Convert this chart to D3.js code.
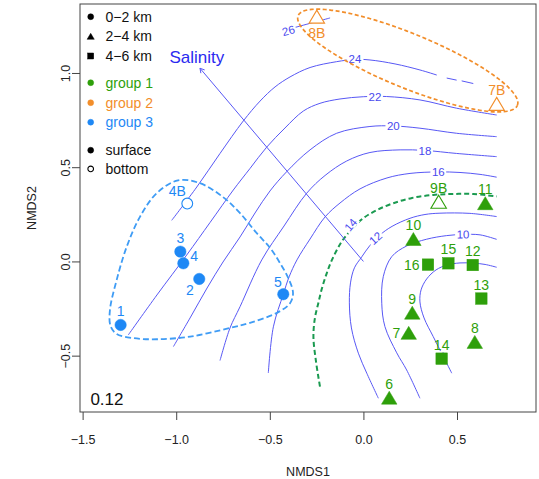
<!DOCTYPE html>
<html>
<head>
<meta charset="utf-8">
<script src="https://cdn.jsdelivr.net/npm/d3@7"></script>
<style>
body { margin: 0; background: #fff; }
text { font-family: "Liberation Sans", Arial, Helvetica, sans-serif; }
</style>
</head>
<body>
<svg id="viz"></svg>
<script>
var width = 539;
var height = 479;

// ---- sites (NMDS scores) ----
var siteNames = ["1","2","3","4","5","4B","8B","7B","6","7","8","9","10","11","12","13","14","15","16","9B"];
var siteNMDS1 = [-1.297,-0.877,-0.978,-0.962,-0.428,-0.941,-0.249,0.712,0.138,0.242,0.595,0.261,0.267,0.651,0.584,0.630,0.418,0.454,0.345,0.402];
var siteNMDS2 = [-0.337,-0.093,0.052,-0.010,-0.174,0.307,1.299,0.836,-0.723,-0.379,-0.427,-0.272,0.119,0.309,-0.019,-0.197,-0.516,-0.010,-0.017,0.317];
var siteGroup = [3,3,3,3,3,3,2,2,1,1,1,1,1,1,1,1,1,1,1,1];
var siteDepth = [0,0,0,0,0,0,1,1,1,1,1,1,1,1,2,2,2,2,2,1];
var siteLayer = ["surface","surface","surface","surface","surface","bottom","bottom","bottom",
                 "surface","surface","surface","surface","surface","surface","surface","surface","surface","surface","surface","bottom"];
var labelPos = ["t","bl","t","tr","tl","tl","b","t","t","l","t","t","t","t","t","t","t","t","l","t"];

var depthNames = ["0\u22122 km","2\u22124 km","4\u22126 km"];
var groupNames = ["group 1","group 2","group 3"];
var layerNames = ["surface","bottom"];

// ---- salinity surface (ordisurf contours), each level a list of pieces ----
var sal8  = [[[0.472,-0.593],[0.425,-0.501],[0.373,-0.399],[0.324,-0.300],[0.302,-0.215],[0.308,-0.151],[0.338,-0.093],[0.388,-0.045],[0.447,-0.019],[0.516,-0.008],[0.587,-0.009],[0.650,-0.016],[0.712,-0.031]]];
var sal10 = [[[0.302,-0.726],[0.231,-0.576],[0.178,-0.485],[0.115,-0.346],[0.098,-0.222],[0.106,-0.081],[0.151,0.025],[0.231,0.082],[0.338,0.118],[0.445,0.137],[0.532,0.143],[0.623,0.141],[0.712,0.117]]];
var sal12 = [[[0.080,-0.726],[0.018,-0.593],[-0.027,-0.487],[-0.064,-0.353],[-0.075,-0.220],[-0.069,-0.114],[-0.048,-0.034],[-0.009,0.024],[0.035,0.085],[0.089,0.141],[0.153,0.186],[0.249,0.229],[0.329,0.249],[0.409,0.256],[0.569,0.255],[0.712,0.238]]];
var sal14 = [[[-0.232,-0.664],[-0.253,-0.533],[-0.267,-0.401],[-0.259,-0.300],[-0.241,-0.222],[-0.221,-0.141],[-0.196,-0.063],[-0.168,0.008],[-0.116,0.105],[-0.066,0.167],[-0.001,0.229],[0.073,0.273],[0.160,0.309],[0.260,0.337],[0.373,0.353],[0.479,0.358],[0.587,0.358],[0.712,0.345]]];
var sal16 = [[[-0.508,-0.592],[-0.481,-0.347],[-0.428,-0.174],[-0.397,-0.082],[-0.355,0.008],[-0.285,0.119],[-0.205,0.236],[-0.125,0.310],[-0.018,0.385],[0.126,0.443],[0.249,0.467],[0.399,0.475],[0.516,0.472],[0.623,0.462],[0.712,0.447]]];
var sal18 = [[[-0.766,-0.526],[-0.713,-0.354],[-0.659,-0.240],[-0.543,0.008],[-0.424,0.188],[-0.303,0.362],[-0.205,0.456],[-0.089,0.533],[0.035,0.578],[0.196,0.592],[0.329,0.589],[0.498,0.573],[0.712,0.556]]];
var sal20 = [[[-1.015,-0.452],[-0.926,-0.300],[-0.835,-0.141],[-0.750,-0.003],[-0.659,0.130],[-0.579,0.257],[-0.499,0.374],[-0.410,0.476],[-0.285,0.592],[-0.143,0.680],[0.035,0.716],[0.158,0.719],[0.302,0.707],[0.498,0.680],[0.712,0.662]]];
var sal22 = [[[-1.256,-0.390],[-1.103,-0.178],[-0.944,0.034],[-0.819,0.207],[-0.695,0.379],[-0.606,0.493],[-0.517,0.606],[-0.419,0.708],[-0.321,0.798],[-0.232,0.839],[-0.125,0.862],[-0.001,0.874],[0.124,0.875],[0.302,0.857],[0.498,0.813],[0.712,0.777]]];
var sal24 = [[[-1.024,0.218],[-0.890,0.395],[-0.766,0.573],[-0.642,0.745],[-0.552,0.851],[-0.472,0.926],[-0.392,0.979],[-0.285,1.029],[-0.143,1.060],[-0.045,1.072],[0.035,1.069],[0.169,1.048],[0.302,1.016],[0.392,0.989]],
             [[0.445,0.973],[0.498,0.962]],
             [[0.525,0.958],[0.587,0.944]]];
var sal26 = [[[-0.368,1.241],[-0.249,1.273],[-0.178,1.292]]];

var contourLevels = [8,10,12,14,16,18,20,22,24,26];
var contourLines  = [sal8,sal10,sal12,sal14,sal16,sal18,sal20,sal22,sal24,sal26];
var contourLabX   = [0.417,0.532,0.065,-0.068,0.400,0.329,0.160,0.062,-0.045,-0.401];
var contourLabY   = [-0.501,0.143,0.123,0.194,0.475,0.588,0.719,0.874,1.073,1.224];
var contourLabAng = [62,-1,-42,-50,0,0,0,0,0,-15];

// salinity vector (envfit)
var salinityVec = [-0.873, 1.025];
var salinityLab = [-0.890, 1.083];

// group 3 hull, group 2 ellipse
var hull3 = [[-0.990,0.430],[-0.873,0.415],[-0.748,0.340],[-0.659,0.256],[-0.570,0.150],[-0.499,0.072],[-0.446,-0.008],[-0.401,-0.089],[-0.376,-0.167],[-0.392,-0.222],[-0.462,-0.273],[-0.606,-0.326],[-0.713,-0.353],[-0.926,-0.399],[-1.104,-0.413],[-1.229,-0.407],[-1.318,-0.385],[-1.351,-0.342],[-1.354,-0.257],[-1.318,-0.098],[-1.264,0.079],[-1.193,0.238],[-1.104,0.362]];
var ellipse2 = {cx: 0.237, cy: 1.066, a: 0.632, b: 0.144, angle: -22.1};

var stress = "0.12";

// ---- styles ----
var groupColors = ["#2e9f0a", "#f28e2b", "#1e88f5"];
var hullColor = "#3f9cf5";
var contourColor = "#5858f5";
var contourTextColor = "#4848ee";
var c14Color = "#1a9a50";

var svg = d3.select("#viz")
	.attr("width", width)
	.attr("height", height)
	.style("display", "block");

var x = d3.scaleLinear().domain([-1.514, 0.922]).range([80, 536]);
var y = d3.scaleLinear().domain([-0.799, 1.366]).range([412, 4]);

var line = d3.line().x(d => x(d[0])).y(d => y(d[1])).curve(d3.curveCatmullRom.alpha(0.5));

// contours
contourLines.forEach((pieces, i) => {
	var lev = contourLevels[i];
	pieces.forEach(p => {
		svg.append("path")
			.attr("d", line(p))
			.attr("fill", "none")
			.attr("stroke", lev === 14 ? c14Color : contourColor)
			.attr("stroke-width", lev === 14 ? 2 : 1)
			.attr("stroke-dasharray", lev === 14 ? "5,3" : null);
	});
});

// contour labels
contourLevels.forEach((lev, i) => {
	var g = svg.append("g")
		.attr("transform", "translate(" + x(contourLabX[i]) + "," + y(contourLabY[i]) + ") rotate(" + contourLabAng[i] + ")");
	var t = g.append("text")
		.attr("text-anchor", "middle")
		.attr("dominant-baseline", "central")
		.style("font-size", "11.5px")
		.attr("fill", contourTextColor)
		.text(lev);
	var bb = t.node().getBBox();
	g.insert("rect", "text")
		.attr("x", bb.x - 1.5).attr("y", bb.y + 1)
		.attr("width", bb.width + 3).attr("height", bb.height - 2)
		.attr("fill", "#fff");
});

// salinity arrow
var x0 = x(0), y0 = y(0), x1 = x(salinityVec[0]), y1 = y(salinityVec[1]);
var ang = Math.atan2(y1 - y0, x1 - x0);
var hl = 5;
svg.append("path")
	.attr("d", "M" + x0 + "," + y0 + "L" + x1 + "," + y1 +
		"M" + (x1 - hl * Math.cos(ang - Math.PI / 6)) + "," + (y1 - hl * Math.sin(ang - Math.PI / 6)) +
		"L" + x1 + "," + y1 +
		"L" + (x1 - hl * Math.cos(ang + Math.PI / 6)) + "," + (y1 - hl * Math.sin(ang + Math.PI / 6)))
	.attr("fill", "none")
	.attr("stroke", contourColor)
	.attr("stroke-width", 1);
svg.append("text")
	.attr("x", x(salinityLab[0])).attr("y", y(salinityLab[1]))
	.attr("text-anchor", "middle")
	.attr("dominant-baseline", "central")
	.style("font-size", "17px")
	.attr("fill", "#2a2af0")
	.text("Salinity");

// group 3 hull
svg.append("path")
	.attr("d", d3.line().x(d => x(d[0])).y(d => y(d[1])).curve(d3.curveCatmullRomClosed.alpha(0.5))(hull3))
	.attr("fill", "none")
	.attr("stroke", hullColor)
	.attr("stroke-width", 1.8)
	.attr("stroke-dasharray", "6,3");

// group 2 ellipse
var ellPts = d3.range(0, 361, 4).map(deg => {
	var t = deg * Math.PI / 180, phi = ellipse2.angle * Math.PI / 180;
	var u = ellipse2.a * Math.cos(t), v = ellipse2.b * Math.sin(t);
	return [ellipse2.cx + u * Math.cos(phi) - v * Math.sin(phi), ellipse2.cy + u * Math.sin(phi) + v * Math.cos(phi)];
});
svg.append("path")
	.attr("d", line(ellPts))
	.attr("fill", "none")
	.attr("stroke", groupColors[1])
	.attr("stroke-width", 1.7)
	.attr("stroke-dasharray", "4,2.5");

// symbols
function triPath(s, h) {
	return "M0," + (-h / 2) + "L" + (s / 2) + "," + (h / 2) + "L" + (-s / 2) + "," + (h / 2) + "Z";
}
function drawSymbol(g, depth, color, filled, scale) {
	var sw = filled ? 0 : 1.1;
	if (depth === 0) {
		g.append("circle").attr("r", (filled ? 5.7 : 5.4) * scale)
			.attr("fill", filled ? color : "#fff").attr("stroke", color).attr("stroke-width", filled ? 0.5 : sw);
	} else if (depth === 1) {
		g.append("path").attr("d", filled ? triPath(15.5 * scale, 13 * scale) : triPath(15.5 * scale, 13 * scale))
			.attr("fill", filled ? color : "#fff").attr("stroke", color).attr("stroke-width", filled ? 0.5 : sw)
			.attr("stroke-linejoin", "miter");
	} else {
		var s = 11.5 * scale;
		g.append("rect").attr("x", -s / 2).attr("y", -s / 2).attr("width", s).attr("height", s)
			.attr("fill", filled ? color : "#fff").attr("stroke", color).attr("stroke-width", filled ? 0.5 : sw);
	}
}

var labelOffsets = {
	t:  {dx: 0, dy: -14, anchor: "middle"},
	b:  {dx: 0, dy: 16.5, anchor: "middle"},
	l:  {dx: -8.5, dy: 0, anchor: "end"},
	tr: {dx: 7, dy: -7.3, anchor: "start"},
	tl: {dx: -7, dy: -12.5, anchor: "middle"},
	bl: {dx: -5.4, dy: 11, anchor: "end"}
};

siteNames.forEach((name, i) => {
	var px = x(siteNMDS1[i]), py = y(siteNMDS2[i]);
	var col = groupColors[siteGroup[i] - 1];
	var g = svg.append("g").attr("transform", "translate(" + px + "," + py + ")");
	drawSymbol(g, siteDepth[i], col, siteLayer[i] === "surface", 1);
	var o = labelOffsets[labelPos[i]];
	var dx = o.dx;
	if (name === "4B" || name === "5") dx = name === "4B" ? -10 : -5.5;
	svg.append("text")
		.attr("x", px + dx).attr("y", py + o.dy)
		.attr("text-anchor", o.anchor)
		.attr("dominant-baseline", "central")
		.style("font-size", "14px")
		.attr("fill", col)
		.text(name);
});

// legend
var legendY = [16.7, 36.3, 56, 82.7, 102.7, 122.2, 150.2, 168.9];
var legendItems = [];
depthNames.forEach((d, i) => legendItems.push({label: d, depth: i, color: "#000", filled: true, text: "#111"}));
groupNames.forEach((d, i) => legendItems.push({label: d, depth: 0, color: groupColors[i], filled: true, text: groupColors[i]}));
layerNames.forEach((d, i) => legendItems.push({label: d, depth: 0, color: "#000", filled: i === 0, text: "#111"}));

legendItems.forEach((it, i) => {
	var g = svg.append("g").attr("transform", "translate(90.7," + legendY[i] + ")");
	drawSymbol(g, it.depth, it.color, it.filled, it.depth === 1 ? 0.46 : 0.52);
	svg.append("text")
		.attr("x", 105.5).attr("y", legendY[i])
		.attr("dominant-baseline", "central")
		.style("font-size", "14px")
		.attr("fill", it.text)
		.text(it.label);
});

// stress value
svg.append("text")
	.attr("x", 90.4).attr("y", 399)
	.attr("dominant-baseline", "central")
	.style("font-size", "17px")
	.attr("fill", "#111")
	.text(stress);

// axes
var xAxis = svg.append("g")
	.attr("transform", "translate(0,412)")
	.call(d3.axisBottom(x).tickValues([-1.5, -1, -0.5, 0, 0.5]).tickSize(8).tickFormat(d3.format(".1f")));
xAxis.select(".domain").remove();
xAxis.selectAll("line").attr("stroke", "#444");
xAxis.selectAll("text")
	.attr("y", 28).attr("dy", null)
	.attr("dominant-baseline", "central")
	.style("font-size", "12.5px")
	.style("font-family", "'Liberation Sans', Arial, sans-serif")
	.attr("fill", "#222");

var yAxis = svg.append("g")
	.attr("transform", "translate(80,0)")
	.call(d3.axisLeft(y).tickValues([-0.5, 0, 0.5, 1]).tickSize(8).tickFormat(d3.format(".1f")));
yAxis.select(".domain").remove();
yAxis.selectAll("line").attr("stroke", "#444");
yAxis.selectAll("text")
	.attr("x", null).attr("dy", null)
	.attr("transform", "translate(-14,0) rotate(-90)")
	.attr("text-anchor", "middle")
	.attr("dominant-baseline", "central")
	.style("font-size", "12.5px")
	.style("font-family", "'Liberation Sans', Arial, sans-serif")
	.attr("fill", "#222");

svg.append("text")
	.attr("x", 308).attr("y", 472)
	.attr("text-anchor", "middle")
	.attr("dominant-baseline", "central")
	.style("font-size", "12.5px")
	.attr("fill", "#222")
	.text("NMDS1");
svg.append("text")
	.attr("transform", "translate(31.5,208) rotate(-90)")
	.attr("text-anchor", "middle")
	.attr("dominant-baseline", "central")
	.style("font-size", "12.5px")
	.attr("fill", "#222")
	.text("NMDS2");

// box
svg.append("rect")
	.attr("x", 80).attr("y", 4)
	.attr("width", 456).attr("height", 408)
	.attr("fill", "none")
	.attr("stroke", "#444")
	.attr("stroke-width", 1);
</script>
</body>
</html>
